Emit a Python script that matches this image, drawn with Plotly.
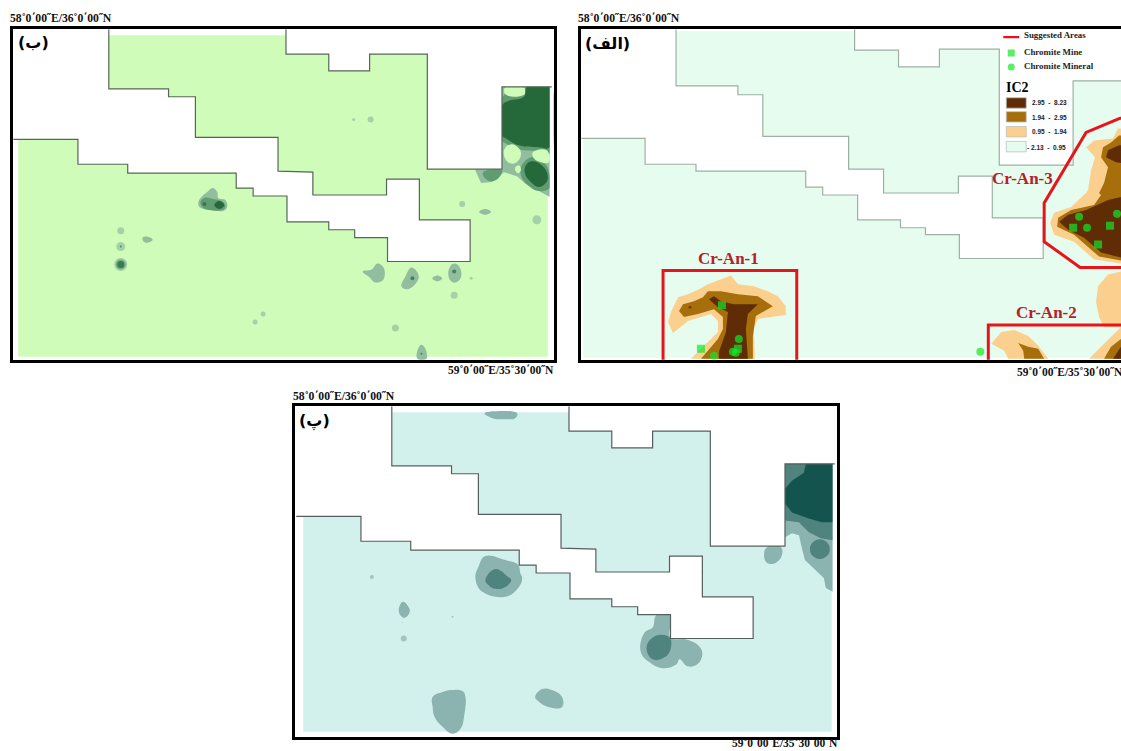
import plotly.graph_objects as go

# ---------- colours ----------
PANEL_B = dict(base="#CFFDB9", c1="#93BD9F", c2="#5F9C72", c3="#25693A", edge="#566656")
PANEL_A = dict(base="#E6FCEE", c1="#FBCF8D", c2="#A66F0C", c3="#5F2C05", edge="#9DB0A6")
PANEL_P = dict(base="#D3F1EC", c1="#8BB3AF", c2="#4F837D", c3="#14544E", edge="#555F5E")
RED = "#E8141C"
GREEN = "#14E628"
LABEL_RED = "#B5202B"

# ---------- licence boundaries (map units, relative to each frame corner) ----------
WHITE_WEST = [(0, 111), (65, 111), (65, 136), (115, 136), (115, 145), (224, 145), (224, 160), (241, 160),
              (241, 168), (275, 168), (275, 194), (317, 194), (317, 202), (343, 202), (343, 210), (376, 210),
              (376, 234), (459, 234), (459, 192), (408, 192), (408, 151), (375, 151), (375, 167), (301, 167),
              (301, 144), (266, 143), (266, 109), (183, 109), (183, 68), (156, 68), (156, 60), (96, 60), (96, 0)]
WHITE_EAST = [(274, 0), (274, 25), (317, 25), (317, 42), (358, 42), (358, 25), (416, 25), (416, 141),
              (491, 141), (491, 58), (541, 58)]
WHITE_WEST_A = [(0, 110), (64, 110), (64, 136), (115, 136), (115, 143), (225, 143), (225, 159), (242, 159),
                (242, 167), (277, 167), (277, 192), (320, 192), (320, 200), (345, 200), (345, 207), (379, 207),
                (379, 231), (463, 231), (463, 190), (412, 190), (412, 148), (378, 148), (378, 165), (303, 165),
                (303, 141), (268, 141), (268, 108), (182, 108), (182, 66), (157, 66), (157, 57), (95, 57), (95, 0)]
WHITE_EAST_A = [(274, 0), (274, 21), (318, 21), (318, 38), (359, 38), (359, 20), (419, 20), (419, 137),
                (493, 137), (493, 52), (560, 52)]

# ---------- panel (b) contours ----------
B_C1 = [
    [(476, 169), (503, 169), (503, 86), (551, 86), (551, 197), (540, 191), (527, 184), (518, 176), (505, 172),
     (493, 182), (482, 183), (477, 172)],
    [(198, 202), (203, 195), (207, 192), (212, 188), (217, 192), (218, 198), (225, 200), (227, 207), (223, 211),
     (213, 210), (203, 209), (199, 207)],
    [(363, 272), (372, 270), (378, 264), (384, 268), (385, 277), (382, 282), (375, 283), (370, 278)],
    [(402, 287), (406, 277), (412, 268), (419, 275), (418, 282), (408, 290)],
    [(449, 275), (451, 267), (455, 264), (460, 267), (462, 277), (457, 283), (452, 282)],
    [(418, 360), (418, 352), (422, 346), (426, 350), (427, 360)],
    [(142, 238), (147, 237), (152, 240), (147, 243), (143, 242)],
    [(480, 212), (486, 209), (492, 212), (486, 215)],
    [(433, 279), (438, 276), (443, 279), (438, 282)],
]
B_C2 = [
    [(503, 97), (512, 92), (526, 92), (528, 86), (551, 86), (551, 153), (540, 151), (520, 149), (507, 143), (503, 140)],
    [(523, 165), (533, 157), (545, 162), (551, 175), (551, 188), (540, 191), (530, 186), (522, 175)],
    [(484, 172), (503, 170), (497, 180), (488, 180)],
    [(200, 202), (204, 198), (213, 199), (223, 202), (225, 207), (222, 210), (203, 208)],
]
B_C3 = [
    [(528, 86), (551, 86), (551, 147), (540, 147), (520, 145), (507, 138), (503, 135), (503, 105), (510, 100),
     (525, 96)],
    [(527, 165), (533, 161), (543, 165), (549, 175), (547, 183), (540, 187), (532, 182), (526, 173)],
    [(214, 205), (219, 201), (224, 205), (219, 209)],
]
B_HOLES = [
    [(506, 87), (525, 87), (527, 92), (518, 96), (506, 93)],
    [(505, 150), (512, 144), (520, 148), (522, 155), (516, 163), (508, 161)],
    [(534, 152), (548, 150), (550, 162), (542, 162), (535, 158)],
    [(516, 168), (520, 165), (522, 170), (519, 173)],
]
B_DOT_X = [120, 120, 120, 263, 255, 354, 371, 472, 455, 396, 463, 538]
B_DOT_Y = [231, 247, 265, 315, 323, 119, 119, 279, 296, 329, 204, 220]
B_DOT_R = [7, 9, 13, 5, 5, 3, 6, 3, 7, 7, 6, 9]
B_MID_X = [120]
B_MID_Y = [265]
B_MID_R = [10]
B_DARK_X = [120, 120, 204, 413, 455, 422]
B_DARK_Y = [247, 265, 204, 279, 272, 355]
B_DARK_R = [2, 7, 4, 4, 4, 2]

# ---------- panel (alef) contours ----------
A_C1 = [
    [(667, 323), (670, 313), (677, 298), (687, 295), (698, 290), (707, 285), (720, 280), (730, 276), (737, 285),
     (753, 287), (767, 292), (777, 297), (785, 307), (785, 316), (770, 318), (757, 320), (753, 330), (754, 360),
     (690, 360), (700, 350), (717, 333), (717, 322), (710, 315), (700, 318), (687, 322), (677, 330), (672, 334)],
    [(1130, 128), (1118, 128), (1113, 138), (1094, 140), (1086, 147), (1095, 157), (1091, 170), (1088, 190),
     (1086, 193), (1071, 207), (1054, 213), (1050, 223), (1054, 235), (1074, 242), (1094, 260), (1121, 264),
     (1130, 264)],
    [(1130, 272), (1121, 272), (1108, 275), (1098, 287), (1096, 303), (1099, 318), (1104, 328), (1130, 328)],
    [(991, 345), (1001, 333), (1014, 331), (1028, 337), (1038, 347), (1048, 360), (1008, 360), (1004, 352)],
    [(1089, 360), (1104, 345), (1118, 332), (1121, 328), (1130, 328), (1130, 360)],
]
A_C2 = [
    [(678, 312), (682, 305), (693, 302), (702, 298), (707, 292), (720, 292), (737, 295), (757, 297), (772, 307),
     (763, 312), (755, 317), (752, 337), (752, 360), (700, 360), (717, 340), (722, 330), (722, 318), (713, 310),
     (697, 315), (683, 318)],
    [(1130, 135), (1119, 135), (1111, 142), (1103, 147), (1101, 157), (1108, 167), (1104, 183), (1099, 193),
     (1101, 195), (1094, 205), (1071, 210), (1058, 218), (1057, 227), (1074, 235), (1099, 257), (1121, 261),
     (1130, 261)],
    [(1018, 344), (1028, 348), (1038, 350), (1044, 360), (1024, 360), (1023, 352)],
    [(1104, 360), (1111, 348), (1121, 340), (1130, 340), (1130, 360)],
]
A_C3 = [
    [(708, 300), (713, 297), (720, 302), (733, 305), (757, 305), (747, 315), (745, 330), (747, 360), (718, 360),
     (718, 353), (725, 333), (727, 313), (717, 308)],
    [(1130, 145), (1119, 145), (1108, 150), (1106, 157), (1116, 162), (1130, 164)],
    [(1130, 195), (1108, 200), (1086, 210), (1068, 215), (1059, 222), (1068, 230), (1084, 238), (1101, 253),
     (1121, 258), (1130, 258)],
    [(1113, 360), (1121, 348), (1130, 348), (1130, 360)],
]
AREA_1 = [(662, 365), (662, 271), (796, 271), (796, 365)]
AREA_2 = [(988, 365), (988, 326), (1140, 326)]
AREA_3 = [(1145, 268), (1080, 268), (1044, 242), (1044, 203), (1086, 132), (1119, 118), (1145, 112)]
AREA_LABELS = ["Cr-An-1", "Cr-An-2", "Cr-An-3"]
AREA_LABEL_X = [728, 1046, 1022]
AREA_LABEL_Y = [258, 312, 178]
MINE_X = [721, 700, 737, 1073, 1110, 1098]
MINE_Y = [306, 350, 350, 228, 226, 245]
MINERAL_X = [738, 732, 735, 713, 1079, 1087, 1117, 980]
MINERAL_Y = [340, 353, 354, 357, 217, 228, 214, 353]

LEGEND_TITLE = "IC2"
LEGEND_RANGES = ["2.95  -  8.23", "1.94  -  2.95", "0.95  -  1.94", "- 2.13  -  0.95"]
LEGEND_ITEMS = ["Suggested Areas", "Chromite Mine", "Chromite Mineral"]

# ---------- panel (pe) contours ----------
P_C1 = [
    [(786, 463), (834, 463), (834, 592), (827, 588), (825, 578), (812, 566), (806, 560), (803, 548), (800, 535),
     (793, 533), (786, 537)],
    [(765, 553), (768, 547), (782, 547), (783, 555), (778, 562), (772, 564), (767, 562)],
    [(478, 567), (485, 556), (505, 560), (518, 565), (520, 573), (522, 578), (518, 588), (505, 597), (482, 592), (475, 578)],
    [(398, 610), (402, 602), (407, 606), (409, 612), (404, 618), (400, 616)],
    [(432, 698), (442, 693), (450, 691), (462, 692), (465, 698), (464, 715), (460, 730), (452, 735), (442, 728),
     (434, 718), (432, 708)],
    [(535, 698), (542, 690), (552, 691), (562, 698), (562, 708), (548, 708), (538, 702)],
    [(657, 615), (671, 615), (671, 638), (687, 640), (700, 647), (703, 655), (698, 665), (688, 667), (680, 660),
     (677, 665), (663, 669), (650, 663), (641, 652), (645, 633), (653, 628)],
    [(484, 412), (517, 412), (515, 417), (505, 418), (492, 417)],
]
P_C2 = [
    [(786, 463), (834, 463), (834, 540), (822, 538), (810, 532), (800, 522), (786, 520)],
    [(811, 549), (814, 542), (821, 539), (828, 542), (831, 549), (828, 556), (821, 559), (814, 556)],
    [(485, 580), (495, 569), (508, 577), (511, 580), (505, 587), (495, 589), (488, 585)],
    [(647, 647), (657, 636), (670, 638), (671, 650), (665, 658), (653, 660)],
]
P_C3 = [
    [(807, 463), (834, 463), (834, 522), (823, 522), (810, 518), (793, 512), (786, 503), (786, 488), (793, 480),
     (805, 472)],
]
P_DOT_X = [403, 371, 452, 402]
P_DOT_Y = [639, 577, 617, 623]
P_DOT_R = [6, 4, 2, 1]

COORD_NW = "58˚0΄00˝E/36˚0΄00˝N"
COORD_SE = "59˚0΄00˝E/35˚30΄00˝N"
PANEL_LETTERS = ["(ب)", "(الف)", "(پ)"]

W, H = 1121, 751
# frame extents of the three panels: x0, x1, y0, y1
FRAMES = {"": (12, 555, 28, 361), "2": (580, 1121, 28, 361), "3": (294, 838, 405, 738)}

fig = go.Figure()


def poly(pts, color, ax, smooth=True):
    fig.add_trace(go.Scatter(
        x=[p[0] for p in pts] + [pts[0][0]], y=[p[1] for p in pts] + [pts[0][1]],
        mode="lines", fill="toself", fillcolor=color,
        line=dict(width=0, color=color, shape="spline" if smooth else "linear", smoothing=1.2),
        xaxis="x" + ax, yaxis="y" + ax, hoverinfo="skip", showlegend=False))


def path(pts, color, width, ax):
    fig.add_trace(go.Scatter(
        x=[p[0] for p in pts], y=[p[1] for p in pts], mode="lines",
        line=dict(width=width, color=color), xaxis="x" + ax, yaxis="y" + ax,
        hoverinfo="skip", showlegend=False))


def dots(xs, ys, sizes, color, ax, symbol="circle"):
    fig.add_trace(go.Scatter(
        x=xs, y=ys, mode="markers", marker=dict(size=sizes, color=color, symbol=symbol, line=dict(width=0)),
        xaxis="x" + ax, yaxis="y" + ax, hoverinfo="skip", showlegend=False))


def base_rect(x0, y0, x1, y1, color, ax):
    poly([(x0, y0), (x1, y0), (x1, y1), (x0, y1)], color, ax, smooth=False)


def licence(west, east, origin, style, ax):
    ox, oy = origin
    w = [(x + ox, y + oy) for x, y in west]
    e = [(x + ox, y + oy) for x, y in east]
    poly(w + [(ox, oy)], "#FFFFFF", ax, smooth=False)
    poly(e + [(e[-1][0], oy)], "#FFFFFF", ax, smooth=False)
    path(w, style["edge"], 1.2, ax)
    path(e, style["edge"], 1.2, ax)


# panel (b)
base_rect(17, 34, 549, 358, PANEL_B["base"], "")
for p in B_C1:
    poly(p, PANEL_B["c1"], "", smooth=p[0] != (476, 169))
dots(B_DOT_X, B_DOT_Y, B_DOT_R, PANEL_B["c1"], "")
for p in B_C2:
    poly(p, PANEL_B["c2"], "")
for p in B_HOLES:
    poly(p, PANEL_B["base"], "")
for p in B_C3:
    poly(p, PANEL_B["c3"], "")
dots(B_MID_X, B_MID_Y, B_MID_R, PANEL_B["c2"], "")
dots(B_DARK_X, B_DARK_Y, B_DARK_R, PANEL_B["c3"], "")
base_rect(551, 86, 556, 362, "#FFFFFF", "")
licence(WHITE_WEST, WHITE_EAST, (12, 28), PANEL_B, "")

# panel (alef)
base_rect(582, 30, 1130, 359, PANEL_A["base"], "2")
for group, col in ((A_C1, "c1"), (A_C2, "c2"), (A_C3, "c3")):
    for p in group:
        poly(p, PANEL_A[col], "2", smooth=False)
licence(WHITE_WEST_A, WHITE_EAST_A, (580, 28), PANEL_A, "2")
for area in (AREA_1, AREA_2, AREA_3):
    path(area, RED, 3, "2")
dots(MINE_X, MINE_Y, [8] * len(MINE_X), GREEN, "2", "square")
dots(MINERAL_X, MINERAL_Y, [8] * len(MINERAL_X), GREEN, "2")
dots([689], [308], [3], PANEL_A["c3"], "2")

# panel (pe)
base_rect(302, 411, 833, 733, PANEL_P["base"], "3")
for p in P_C1:
    poly(p, PANEL_P["c1"], "3", smooth=p[0] != (786, 463))
dots(P_DOT_X, P_DOT_Y, P_DOT_R, PANEL_P["c1"], "3")
for p in P_C2:
    poly(p, PANEL_P["c2"], "3", smooth=p[0] != (786, 463))
for p in P_C3:
    poly(p, PANEL_P["c3"], "3", smooth=False)
base_rect(834, 463, 839, 739, "#FFFFFF", "3")
licence(WHITE_WEST, WHITE_EAST, (295, 405), PANEL_P, "3")

# legend keys inside panel (alef)
path([(1003, 36), (1019, 36)], RED, 2.2, "2")
dots([1011], [52], [7], GREEN, "2", "square")
dots([1011], [66], [7], GREEN, "2")
shapes = []
for top, col in zip([97, 111, 126, 141], [PANEL_A["c3"], PANEL_A["c2"], PANEL_A["c1"], PANEL_A["base"]]):
    shapes.append(dict(type="rect", xref="x2", yref="y2", x0=1006, x1=1026, y0=top, y1=top + 10.5,
                       fillcolor=col, line=dict(color="#B9C4BC", width=0.8)))

# axes and frames
INSET = 1.25
layout = dict(width=W, height=H, margin=dict(l=0, r=0, t=0, b=0), paper_bgcolor="white",
              plot_bgcolor="white", showlegend=False, shapes=shapes)
for ax, (x0, x1, y0, y1) in FRAMES.items():
    right = 1.0 if x1 == W else (x1 - INSET) / W
    layout["xaxis" + ax] = dict(domain=[(x0 + INSET) / W, right], range=[x0, x1], showline=True, mirror=True,
                                linecolor="black", linewidth=2.5, showticklabels=False, ticks="", showgrid=False,
                                zeroline=False, anchor="y" + ax)
    layout["yaxis" + ax] = dict(domain=[1 - (y1 - INSET) / H, 1 - (y0 + INSET) / H], range=[y1, y0], showline=True,
                                mirror=ax != "2", linecolor="black", linewidth=2.5, showticklabels=False, ticks="",
                                showgrid=False, zeroline=False, anchor="x" + ax)

SERIF = "Liberation Serif"
ann = []


def text(t, x, y, size, color="#111111", family=SERIF, anchor="left"):
    shift = -2 if anchor == "left" else 0
    ann.append(dict(text="<b>%s</b>" % t, x=x / W, y=1 - y / H, xref="paper", yref="paper",
                    showarrow=False, xanchor=anchor, yanchor="middle", xshift=shift, align="left",
                    font=dict(size=size, color=color, family=family)))


for x, y in ((10, 19), (578, 19), (293, 396)):
    text(COORD_NW, x, y, 11.7)
for x, y in ((448, 370), (1017, 372), (732, 743)):
    text(COORD_SE, x, y, 11.5)
for t, x, y in zip(PANEL_LETTERS, (18, 585, 299), (43, 44, 421)):
    text(t, x, y, 16, color="black", family="DejaVu Sans")
for t, x, y in zip(AREA_LABELS, AREA_LABEL_X, AREA_LABEL_Y):
    text(t, x, y, 17, color=LABEL_RED, anchor="center")
for t, y in zip(LEGEND_ITEMS, (35, 52, 66)):
    text(t, 1024, y, 8.9, color="#222222")
text(LEGEND_TITLE, 1006, 87, 14, color="black")
for t, x, y in zip(LEGEND_RANGES, (1032, 1032, 1032, 1027), (103, 117, 132, 147)):
    text(t, x, y, 6.5, color="#222222", family="Liberation Sans")
layout["annotations"] = ann

fig.update_layout(**layout)
fig.write_html("out.html", config=dict(displayModeBar=False), post_script="document.body.style.margin='0';")
